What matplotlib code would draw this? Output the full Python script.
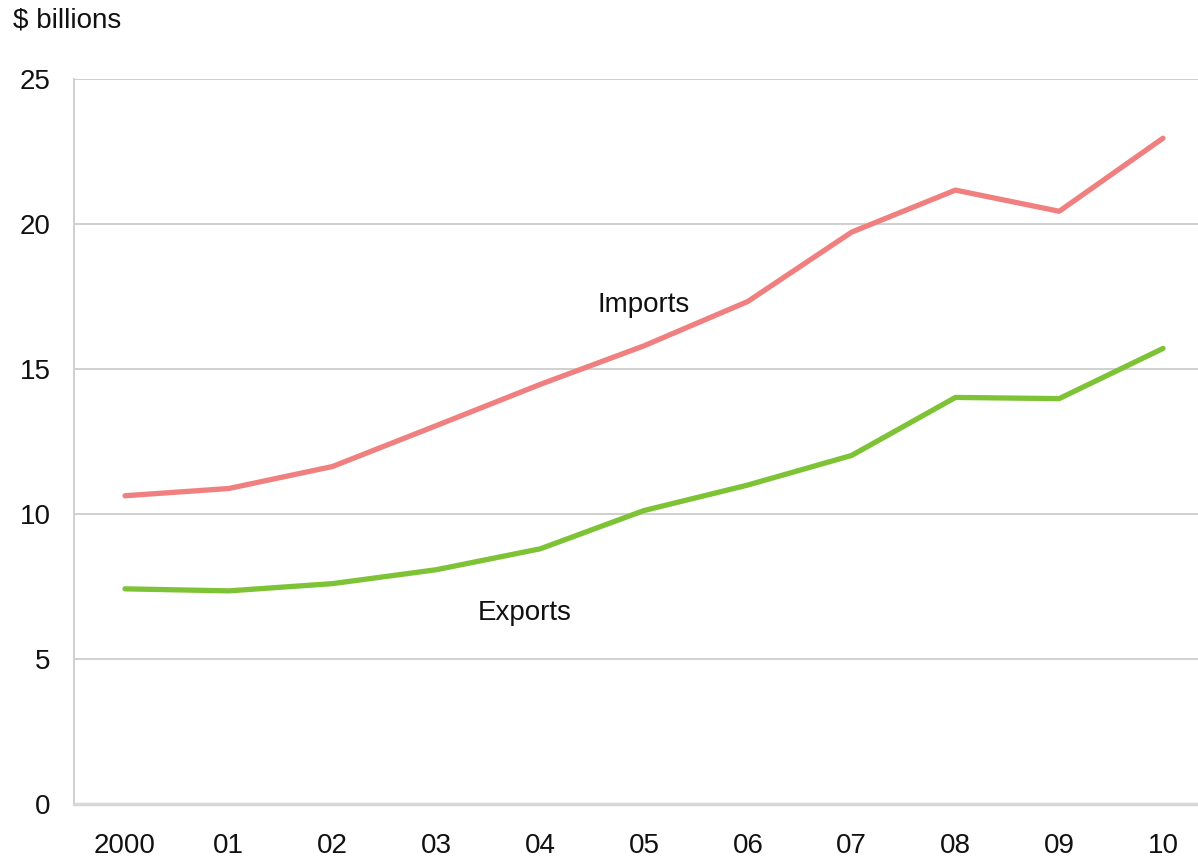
import numpy as np
import matplotlib.pyplot as plt

plt.rcParams['font.family'] = ['Liberation Sans', 'DejaVu Sans']

years = [2000, 2001, 2002, 2003, 2004, 2005, 2006, 2007, 2008, 2009, 2010]
year_labels = ['2000', '01', '02', '03', '04', '05', '06', '07', '08', '09', '10']
imports = [10.63, 10.88, 11.64, 13.05, 14.47, 15.8, 17.33, 19.72, 21.17, 20.44, 22.96]
exports = [7.42, 7.35, 7.6, 8.08, 8.8, 10.12, 11.0, 12.02, 14.02, 13.98, 15.71]

fig = plt.figure(figsize=(11.98, 8.6), dpi=100)
ax = fig.add_axes([0.0618, 0.0651, 0.9382, 0.843])

ax.plot(years, imports, color='#F08080', lw=3.8, solid_capstyle='round', solid_joinstyle='round')
ax.plot(years, exports, color='#7DC335', lw=3.8, solid_capstyle='round', solid_joinstyle='round')

ax.set_xlim(1999.509, 2010.337)
ax.set_ylim(0, 25)
ax.set_yticks([0, 5, 10, 15, 20, 25])
ax.set_xticks(years)
ax.set_xticklabels(year_labels)
ax.tick_params(length=0, labelsize=20, colors='#111111')
ax.tick_params(axis='y', pad=17)
ax.tick_params(axis='x', pad=21)
ax.yaxis.grid(True, color='#d0d0d0', lw=1.4)
ax.set_axisbelow(True)
for s in ['top', 'right']:
    ax.spines[s].set_visible(False)
ax.spines['left'].set_color('#d0d0d0')
ax.spines['left'].set_linewidth(1.4)
ax.spines['bottom'].set_color('#d8d8d8')
ax.spines['bottom'].set_linewidth(2.5)

ax.text(2005, 17.2, 'Imports', fontsize=20, ha='center', va='center', color='#111111')
ax.text(2003.85, 6.6, 'Exports', fontsize=20, ha='center', va='center', color='#111111')
fig.text(13 / 1198, 1 - 20 / 860, '$ billions', fontsize=20, ha='left', va='center', color='#111111')

fig.savefig('out.png', dpi=100)
